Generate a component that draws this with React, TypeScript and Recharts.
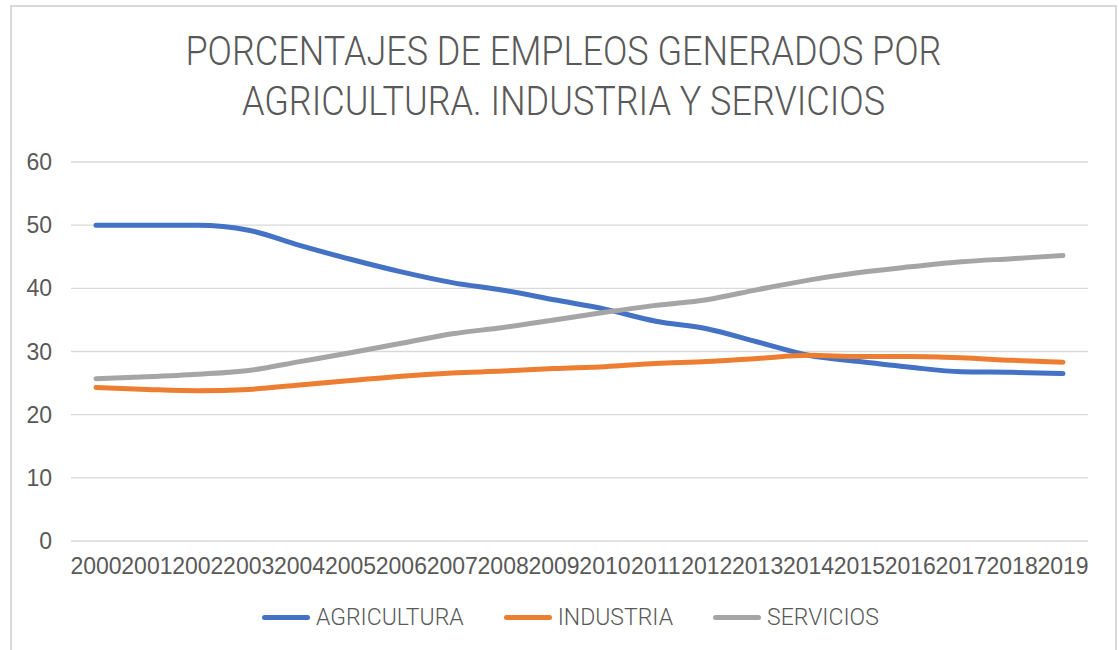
import React from 'react';
import { LineChart, Line, XAxis, YAxis, CartesianGrid } from 'recharts';

const years = [
  '2000', '2001', '2002', '2003', '2004', '2005', '2006', '2007', '2008', '2009',
  '2010', '2011', '2012', '2013', '2014', '2015', '2016', '2017', '2018', '2019',
];
const agricultura = [50, 50, 50, 49.2, 46.8, 44.6, 42.6, 40.9, 39.7, 38.2, 36.7, 34.8, 33.6, 31.5, 29.4, 28.4, 27.5, 26.8, 26.7, 26.5];
const industria = [24.3, 24.0, 23.8, 24.0, 24.7, 25.4, 26.1, 26.6, 26.9, 27.3, 27.6, 28.1, 28.4, 28.9, 29.4, 29.2, 29.2, 29.0, 28.6, 28.3];
const servicios = [25.7, 26.0, 26.4, 27.0, 28.4, 29.8, 31.3, 32.8, 33.8, 35.0, 36.2, 37.3, 38.2, 39.8, 41.3, 42.5, 43.4, 44.2, 44.7, 45.2];
const yTicks = [0, 10, 20, 30, 40, 50, 60];

const series = [
  { key: 'agricultura', name: 'AGRICULTURA', color: '#4472C4' },
  { key: 'industria', name: 'INDUSTRIA', color: '#ED7D31' },
  { key: 'servicios', name: 'SERVICIOS', color: '#A5A5A5' },
];

const data = years.map((year, i) => ({
  year,
  agricultura: agricultura[i],
  industria: industria[i],
  servicios: servicios[i],
}));

const font = '"Liberation Sans", Arial, sans-serif';
const lightFont = 'Roboto, "Liberation Sans", Arial, sans-serif';
const textColor = '#595959';

const App: React.FC = () => {
  return (
    <div style={{ position: 'absolute', left: 0, top: 0, width: 1119, height: 650, background: '#fff', overflow: 'hidden', fontFamily: font }}>
      <div
        style={{
          position: 'absolute', left: 10, top: 5, width: 1107, height: 680,
          border: '2px solid #d9d9d9', boxSizing: 'border-box',
        }}
      />
      {/* title: condensed look via horizontal squeeze */}
      <div
        style={{
          position: 'absolute', left: 10, top: 27, width: 1107, textAlign: 'center',
          fontSize: 40, lineHeight: '50px', color: textColor, fontFamily: lightFont, fontWeight: 300,
          transform: 'scaleX(0.9)', transformOrigin: '553px 0',
        }}
      >
        PORCENTAJES DE EMPLEOS GENERADOS POR
        <br />
        AGRICULTURA. INDUSTRIA Y SERVICIOS
      </div>
      <div style={{ position: 'absolute', left: 0, top: 0 }}>
        <LineChart width={1119} height={650} data={data} margin={{ top: 162, right: 31, left: 0, bottom: 69 }}>
          <CartesianGrid vertical={false} stroke="#d9d9d9" strokeWidth={1.3} />
          <XAxis
            dataKey="year"
            interval={0}
            padding={{ left: 25, right: 25 }}
            axisLine={false}
            tickLine={false}
            tickSize={0}
            tickMargin={17}
            height={40}
            tick={{ fill: textColor, fontSize: 23, fontFamily: font }}
          />
          <YAxis
            domain={[0, 60]}
            ticks={yTicks}
            width={71}
            axisLine={false}
            tickLine={false}
            tickSize={0}
            tickMargin={19}
            tick={{ fill: textColor, fontSize: 23, fontFamily: font }}
          />
          {series.map((s) => (
            <Line
              key={s.key}
              type="monotone"
              dataKey={s.key}
              name={s.name}
              stroke={s.color}
              strokeWidth={5}
              strokeLinecap="round"
              dot={false}
              activeDot={false}
              isAnimationActive={false}
            />
          ))}
        </LineChart>
      </div>
      <div style={{ position: 'absolute', left: 262, top: 602, display: 'flex', alignItems: 'center', height: 30 }}>
        {series.map((s) => (
          <div key={s.key} style={{ display: 'flex', alignItems: 'center', marginRight: 40 }}>
            <span style={{ display: 'inline-block', width: 48, height: 5, borderRadius: 3, background: s.color, marginRight: 6 }} />
            <span style={{ fontSize: 23, color: textColor, fontFamily: lightFont, fontWeight: 300 }}>{s.name}</span>
          </div>
        ))}
      </div>
    </div>
  );
};

export default App;
